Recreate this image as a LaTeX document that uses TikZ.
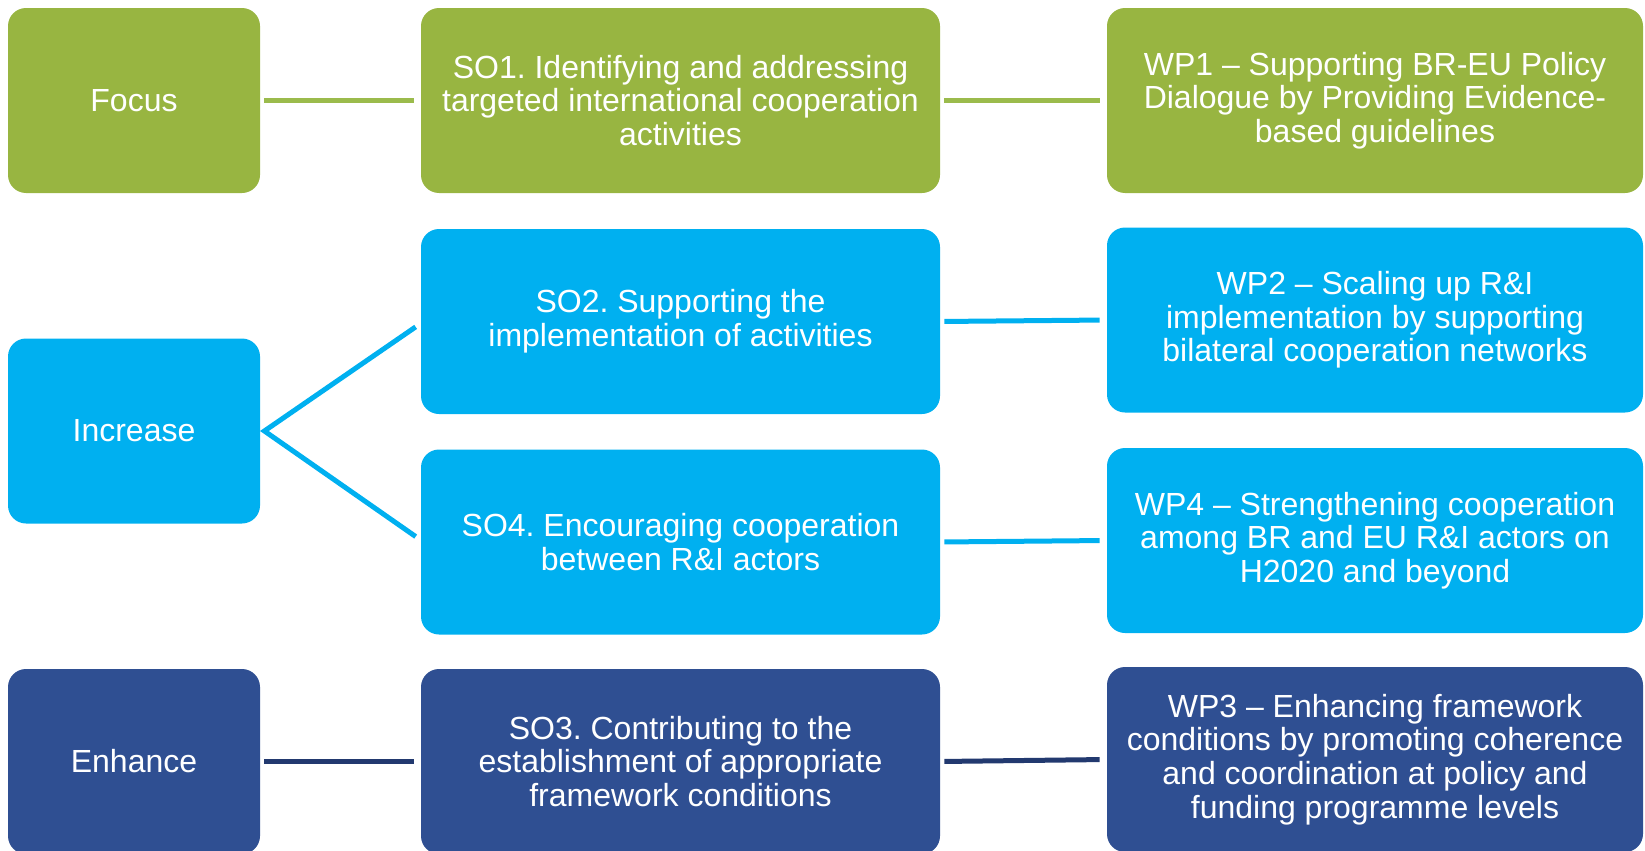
\documentclass[tikz,border=0pt]{standalone}
\usepackage{fontspec}
\setmainfont{Liberation Sans}
\usepackage{tikz}
\usetikzlibrary{positioning}
\definecolor{focusgreen}{HTML}{98B541}
\definecolor{focusline}{HTML}{9BBB4C}
\definecolor{increaseblue}{HTML}{00B0F0}
\definecolor{enhancenavy}{HTML}{2F4F92}
\definecolor{enhanceline}{HTML}{22396F}
\frenchspacing

\begin{document}
\begin{tikzpicture}[
    x=0.5pt, y=-0.5pt,
    every node/.style={font=\fontsize{16}{16.8}\selectfont, text=white, align=center},
    goalbox/.style={rectangle, rounded corners=9pt, inner sep=0pt,
        minimum width=126pt, minimum height=92.5pt},
    sobox/.style={goalbox, minimum width=259.5pt},
    wpbox/.style={goalbox, minimum width=268pt},
    link/.style={line width=2.5pt, shorten <=2pt, shorten >=3.5pt}
]
    \useasboundingbox (0,0) rectangle (1645,851);

    % === FOCUS ROW ===
    \node[goalbox, fill=focusgreen] (focus) at (134,100.5) {Focus};
    \node[sobox, fill=focusgreen] (so1) at (680.5,100.5)
        {SO1. Identifying and addressing\\targeted international cooperation\\activities};
    \node[wpbox, fill=focusgreen] (wp1) at (1375,100.5)
        {WP1 -- Supporting BR-EU Policy\\Dialogue by Providing Evidence-\\based guidelines};

    % === INCREASE ROWS ===
    \node[goalbox, fill=increaseblue] (increase) at (134,431) {Increase};
    \node[sobox, fill=increaseblue] (so2) at (680.5,321.5)
        {SO2. Supporting the\\implementation of activities};
    \node[wpbox, fill=increaseblue] (wp2) at (1375,320)
        {WP2 -- Scaling up R\&I\\implementation by supporting\\bilateral cooperation networks};
    \node[sobox, fill=increaseblue] (so4) at (680.5,542)
        {SO4. Encouraging cooperation\\between R\&I actors};
    \node[wpbox, fill=increaseblue] (wp4) at (1375,540.5)
        {WP4 -- Strengthening cooperation\\among BR and EU R\&I actors on\\H2020 and beyond};

    % === ENHANCE ROW ===
    \node[goalbox, fill=enhancenavy] (enhance) at (134,761.5) {Enhance};
    \node[sobox, fill=enhancenavy] (so3) at (680.5,761.5)
        {SO3. Contributing to the\\establishment of appropriate\\framework conditions};
    \node[wpbox, fill=enhancenavy] (wp3) at (1375,759.5)
        {WP3 -- Enhancing framework\\conditions by promoting coherence\\and coordination at policy and\\funding programme levels};

    % === CONNECTORS ===
    \draw[link, focusline] (focus.east) -- (so1.west);
    \draw[link, focusline] (so1.east) -- (wp1.west);

    \coordinate (fan) at ([xshift=2pt]increase.east);
    \draw[increaseblue, line width=2.5pt, shorten <=3pt, shorten >=3pt]
        ([yshift=-1pt]so2.west) -- (fan) -- ([yshift=1pt]so4.west);
    \draw[link, increaseblue] (so2.east) -- (wp2.west);
    \draw[link, increaseblue] (so4.east) -- (wp4.west);

    \draw[link, enhanceline] (enhance.east) -- (so3.west);
    \draw[link, enhanceline] (so3.east) -- (wp3.west);
\end{tikzpicture}
\end{document}
